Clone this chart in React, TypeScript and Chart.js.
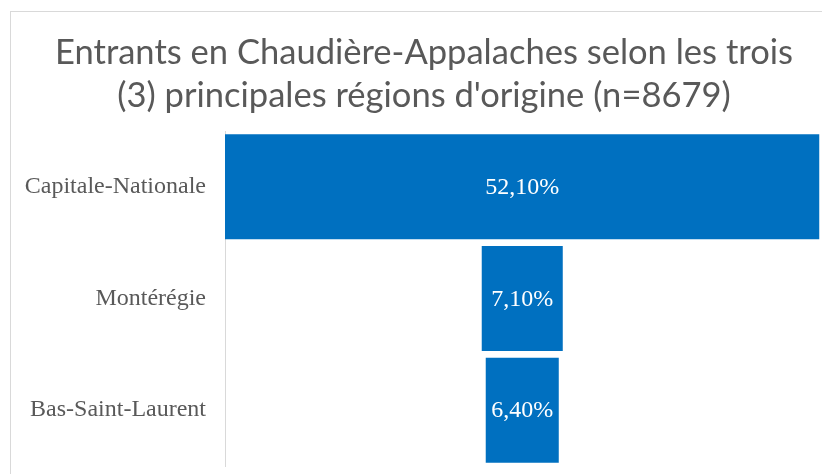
import React, { useEffect, useRef } from "react";
import { Chart, registerables } from "chart.js";

Chart.register(...registerables);

const titleLines = [
  "Entrants en Chaudière-Appalaches selon les trois",
  "(3) principales régions d'origine (n=8679)",
];
const categories = ["Capitale-Nationale", "Montérégie", "Bas-Saint-Laurent"];
const values = [52.1, 7.1, 6.4];

const BAR_COLOR = "#0070C0";
const TEXT_COLOR = "#595959";

export default function App() {
  const ref = useRef<HTMLCanvasElement | null>(null);

  useEffect(() => {
    if (!ref.current) return;
    const maxV = Math.max(...values);
    const floating = values.map((v) => [(maxV - v) / 2, (maxV + v) / 2]);

    const framePlugin = {
      id: "frame",
      beforeDraw(chart: any) {
        const ctx = chart.ctx;
        ctx.save();
        ctx.fillStyle = "#ffffff";
        ctx.fillRect(0, 0, chart.width, chart.height);
        ctx.strokeStyle = "#d9d9d9";
        ctx.lineWidth = 1;
        ctx.strokeRect(10.5, 11.5, 1000, 1000);
        ctx.fillStyle = TEXT_COLOR;
        ctx.font = "31px Lato";
        const w = ctx.measureText(titleLines[0]).width;
        const size = (31 * 738) / w;
        ctx.font = size.toFixed(2) + "px Lato";
        ctx.textAlign = "center";
        ctx.textBaseline = "alphabetic";
        ctx.fillText(titleLines[0], 424, 64);
        ctx.fillText(titleLines[1], 424, 107);
        ctx.restore();
      },
    };

    const labelPlugin = {
      id: "barLabels",
      afterDatasetsDraw(chart: any) {
        const ctx = chart.ctx;
        const meta = chart.getDatasetMeta(0);
        ctx.save();
        ctx.fillStyle = "#ffffff";
        ctx.font = "24px 'Liberation Serif'";
        ctx.textAlign = "center";
        ctx.textBaseline = "middle";
        meta.data.forEach((bar: any, i: number) => {
          const p = bar.getProps(["x", "base", "y"], true);
          const cx = (p.x + p.base) / 2;
          ctx.fillText(values[i].toFixed(2).replace(".", ",") + "%", cx, p.y + 1);
        });
        ctx.restore();
      },
    };

    const chart = new Chart(ref.current, {
      type: "bar",
      data: {
        labels: categories,
        datasets: [
          {
            data: floating as any,
            backgroundColor: BAR_COLOR,
            borderWidth: 0,
            categoryPercentage: 1,
            barPercentage: 0.94,
          },
        ],
      },
      options: {
        indexAxis: "y",
        animation: false,
        responsive: false,
        layout: { padding: { top: 131, bottom: 8, right: 2.5, left: 0 } },
        plugins: {
          legend: { display: false },
          title: { display: false },
          tooltip: { enabled: false },
        },
        scales: {
          x: {
            display: false,
            min: 0,
            max: maxV,
          },
          y: {
            grid: { display: false, drawTicks: false },
            border: { display: true, color: "#d9d9d9", width: 1 },
            ticks: {
              color: TEXT_COLOR,
              font: { family: "'Liberation Serif'", size: 24 },
              padding: 19,
            },
            afterFit(scale: any) {
              scale.width = 225;
              scale.paddingTop = 0;
              scale.paddingBottom = 0;
            },
          },
        },
      },
      plugins: [framePlugin, labelPlugin],
    });
    return () => chart.destroy();
  }, []);

  return (
    <div style={{ position: "fixed", left: 0, top: 0, width: 822, height: 474 }}>
      <canvas ref={ref} width={822} height={474} style={{ width: 822, height: 474 }} />
    </div>
  );
}
